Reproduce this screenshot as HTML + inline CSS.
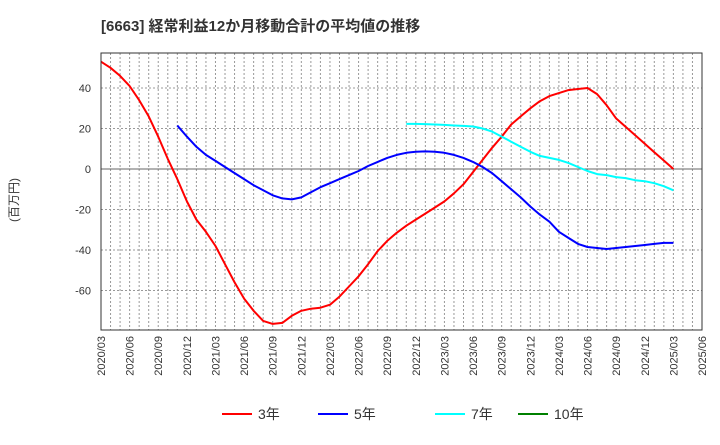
<!DOCTYPE html>
<html><head><meta charset="utf-8"><style>
body{margin:0;background:#fff;width:720px;height:440px;overflow:hidden;font-family:"Liberation Sans","Noto Sans CJK JP",sans-serif}
</style></head><body>
<svg id="c" width="720" height="440" xmlns="http://www.w3.org/2000/svg">
<text x="101" y="31" font-size="15" font-weight="bold" fill="#333" font-family="Liberation Sans,Noto Sans CJK JP,sans-serif">[6663]  経常利益12か月移動合計の平均値の推移</text>
<text transform="translate(18,200) rotate(-90)" text-anchor="middle" font-size="12" fill="#333" font-family="Liberation Sans,Noto Sans CJK JP,sans-serif">(百万円)</text>
<g id="grid"></g><g id="series"></g><g id="axes"></g><g id="legend"></g>
</svg>
<script>
const xLabels=["2020/03","2020/06","2020/09","2020/12","2021/03","2021/06","2021/09","2021/12","2022/03","2022/06","2022/09","2022/12","2023/03","2023/06","2023/09","2023/12","2024/03","2024/06","2024/09","2024/12","2025/03","2025/06"];
const yTicks=[40,20,0,-20,-40,-60];
const s3=[53,50,46,41,34,26,16,5,-5,-16,-25,-31,-38,-47,-56,-64,-70,-75,-76.5,-76,-72.5,-70,-69,-68.5,-67,-63,-58,-53,-47,-40.5,-35.5,-31.5,-28,-25,-22,-19,-16,-12,-7.5,-1.5,4.5,10.5,16,22,26,30,33.5,36,37.5,39,39.5,40,37,31.5,25,20.8,16.7,12.5,8.3,4.2,0];
const s3Start=0;
const s5=[21.5,16,11,7,4,1,-2,-5,-8,-10.5,-13,-14.5,-15,-14,-11.5,-9,-7,-5,-3,-1,1.5,3.5,5.5,7,8,8.5,8.7,8.5,8,7,5.5,3.5,1,-2,-6,-10,-14,-18.5,-22.5,-26,-31,-34,-37,-38.5,-39,-39.5,-39,-38.5,-38,-37.5,-37,-36.5,-36.5];
const s5Start=8;
const s7=[22.3,22.3,22.2,22,21.8,21.5,21.3,21,20,18.5,16,13.5,11,8.5,6.5,5.5,4.5,3,1,-1,-2.5,-3,-4,-4.5,-5.5,-6,-7,-8.5,-10.5];
const s7Start=32;
const L=101,R=702,T=53,B=330,yMax=57.3,yMin=-79.5,nMonths=63;
const NS="http://www.w3.org/2000/svg";
function X(i){return L+(R-L)*i/nMonths}
function Y(v){return T+(B-T)*(yMax-v)/(yMax-yMin)}
function mk(tag,attrs,parent){const e=document.createElementNS(NS,tag);for(const k in attrs)e.setAttribute(k,attrs[k]);parent.appendChild(e);return e}
const grid=document.getElementById('grid'),axes=document.getElementById('axes'),ser=document.getElementById('series'),leg=document.getElementById('legend');
for(let i=1;i<nMonths;i++){const g=mk('line',{x1:X(i),x2:X(i),y1:T,y2:B,stroke:'#999','stroke-dasharray':'2,2','stroke-width':1},grid);

}
yTicks.forEach(v=>{const g=mk('line',{x1:L,x2:R,y1:Y(v),y2:Y(v),stroke:v===0?'#666':'#999','stroke-dasharray':v===0?'none':'2,2','stroke-width':1},grid);


const t=mk('text',{x:L-10,y:Y(v)+4,'text-anchor':'end','font-size':11,fill:'#333'},axes);t.textContent=v;

});
const fr=mk('rect',{x:L,y:T,width:R-L,height:B-T,fill:'none',stroke:'#333','stroke-width':1},axes);


xLabels.forEach((lab,k)=>{const x=X(k*3);const t=mk('text',{transform:`translate(${x+4},${B+6}) rotate(-90)`,'text-anchor':'end','font-size':11,fill:'#333'},axes);t.textContent=lab;

});
function line(arr,start,color,name){const p=arr.map((v,i)=>X(start+i).toFixed(1)+','+Y(v).toFixed(1)).join(' ');
const e=mk('polyline',{points:p,fill:'none',stroke:color,'stroke-width':2,'stroke-linejoin':'round'},ser);

}
line(s3,s3Start,'#ff0000','series-3y');
line(s5,s5Start,'#0000ff','series-5y');
line(s7,s7Start,'#00ffff','series-7y');
[['3年','#ff0000',222],['5年','#0000ff',318],['7年','#00ffff',435],['10年','#008000',518]].forEach(([n,c,x])=>{
const g=mk('g',{},leg);


mk('line',{x1:x,x2:x+30,y1:414,y2:414,stroke:c,'stroke-width':2},g);
const t=mk('text',{x:x+36,y:419,'font-size':14,fill:'#333'},g);t.textContent=n;});
</script>
</body></html>
